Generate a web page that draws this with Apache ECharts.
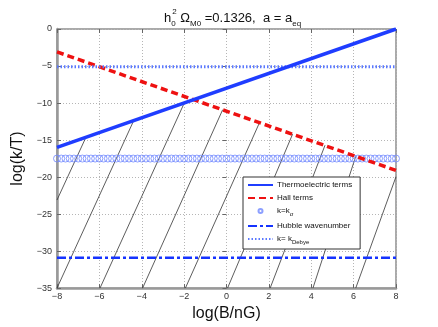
<!DOCTYPE html>
<html>
<head>
<meta charset="utf-8">
<script src="https://cdn.jsdelivr.net/npm/echarts@6/dist/echarts.min.js"></script>
<style>
  html, body { margin: 0; padding: 0; background: #fff; }
  #chart { width: 438px; height: 327px; }
</style>
</head>
<body>
<div id="chart"></div>
<script>
// values
const thermoelectric = [[-8, -16.0], [8, 0]];
const hall = [[-8, -3.1], [8, -19.1]];
const kSigmaLevel = -17.5;
const kSigmaB = [
  -8, -7.8, -7.6, -7.4, -7.2, -7, -6.8, -6.6, -6.4, -6.2, -6, -5.8, -5.6, -5.4, -5.2, -5,
  -4.8, -4.6, -4.4, -4.2, -4, -3.8, -3.6, -3.4, -3.2, -3, -2.8, -2.6, -2.4, -2.2, -2,
  -1.8, -1.6, -1.4, -1.2, -1, -0.8, -0.6, -0.4, -0.2, 0, 0.2, 0.4, 0.6, 0.8, 1,
  1.2, 1.4, 1.6, 1.8, 2, 2.2, 2.4, 2.6, 2.8, 3, 3.2, 3.4, 3.6, 3.8, 4,
  4.2, 4.4, 4.6, 4.8, 5, 5.2, 5.4, 5.6, 5.8, 6, 6.2, 6.4, 6.6, 6.8, 7,
  7.2, 7.4, 7.6, 7.8, 8
];
const hubbleLevel = -30.9;
const debyeLevel = -5.1;
// thin slanted lines: [start, end]
const slantLines = [
  [[-8, -23.1], [-6.63, -14.6]],
  [[-8, -35], [-4.4, -12.5]],
  [[-5.97, -35], [-2.01, -10.1]],
  [[-3.96, -35], [-0.18, -10.9]],
  [[-1.94, -35], [1.55, -12.7]],
  [[0.05, -35], [3.12, -14.2]],
  [[2.06, -35], [4.65, -15.7]],
  [[4.08, -35], [6.1, -17.2]],
  [[6.1, -35], [8, -19.95]]
];
const bMin = -8, bMax = 8;

const chart = echarts.init(document.getElementById('chart'), null, { renderer: 'canvas' });

const font = 'Liberation Sans, Arial, sans-serif';
const minus = v => String(v).replace('-', '\u2212');

let slantData = [];
slantLines.forEach(seg => { slantData.push(seg[0], seg[1], '-'); });

const legendNames = {
  'kSigma': '{t|k=k}{s|σ}',
  'Debye': '{t|k= k}{s|Debye}'
};
const noDot = { opacity: 0 };

const option = {
  animation: false,
  backgroundColor: '#ffffff',
  title: {
    left: 159,
    top: 3,
    text: '{n|h}{s0|0}{sp|2}{n| Ω}{sb|M0}{n| =0.1326,  a = a}{sb|eq}',
    textStyle: {
      fontWeight: 'normal',
      rich: {
        n: { fontSize: 13, fontFamily: font, color: '#111', lineHeight: 20, fontWeight: 'normal' },
        s0: { fontSize: 8, fontFamily: font, color: '#111', lineHeight: 9, verticalAlign: 'bottom', width: 1, fontWeight: 'normal' },
        sp: { fontSize: 8, fontFamily: font, color: '#111', lineHeight: 9, verticalAlign: 'top', fontWeight: 'normal' },
        sb: { fontSize: 8, fontFamily: font, color: '#111', lineHeight: 9, verticalAlign: 'bottom', fontWeight: 'normal' }
      }
    }
  },
  grid: {
    left: 57, right: 42, top: 29, bottom: 36,
    show: true, borderColor: '#555', borderWidth: 1
  },
  legend: {
    data: [
      { name: 'Thermoelectric terms', itemStyle: noDot },
      { name: 'Hall terms', itemStyle: noDot },
      { name: 'kSigma' },
      { name: 'Hubble wavenumber', itemStyle: noDot },
      { name: 'Debye', itemStyle: noDot }
    ],
    orient: 'vertical',
    left: 243, top: 177,
    padding: [4, 8, 4, 4],
    itemWidth: 25, itemHeight: 4, itemGap: 5,
    backgroundColor: '#fff',
    borderColor: '#333', borderWidth: 1, borderRadius: 0,
    selectedMode: false,
    formatter: name => legendNames[name] || name,
    textStyle: {
      fontSize: 8, fontFamily: font, color: '#111', padding: [0, 0, 0, -1],
      rich: {
        t: { fontSize: 8, fontFamily: font, color: '#111' },
        s: { fontSize: 6, fontFamily: font, color: '#111', verticalAlign: 'bottom', lineHeight: 12 }
      }
    }
  },
  xAxis: [{
    type: 'value', min: bMin, max: bMax, interval: 2,
    name: 'log(B/nG)', nameLocation: 'middle', nameGap: 10,
    nameTextStyle: { fontSize: 16, fontFamily: font, color: '#111' },
    axisLine: { onZero: false, lineStyle: { color: '#999', width: 2.5 } },
    axisTick: { inside: true, length: 4, lineStyle: { color: '#666' } },
    axisLabel: { fontSize: 9, fontFamily: font, color: '#333', margin: 4, formatter: minus },
    splitLine: { lineStyle: { color: '#b5b5b5', type: [1, 2] } }
  }, {
    type: 'value', min: bMin, max: bMax, interval: 2, position: 'top',
    axisLine: { show: false },
    axisTick: { inside: true, length: 4, lineStyle: { color: '#666' } },
    axisLabel: { show: false }, splitLine: { show: false }
  }],
  yAxis: [{
    type: 'value', min: -35, max: 0, interval: 5,
    name: 'log(k/T)', nameLocation: 'middle', nameGap: 22,
    nameTextStyle: { fontSize: 16, fontFamily: font, color: '#111' },
    axisLine: { onZero: false, lineStyle: { color: '#999', width: 2.5 } },
    axisTick: { inside: true, length: 4, lineStyle: { color: '#666' } },
    axisLabel: { fontSize: 9, fontFamily: font, color: '#333', margin: 5, formatter: minus },
    splitLine: { lineStyle: { color: '#b5b5b5', type: [1, 2] } }
  }, {
    type: 'value', min: -35, max: 0, interval: 5, position: 'right',
    axisLine: { show: false },
    axisTick: { inside: true, length: 4, lineStyle: { color: '#666' } },
    axisLabel: { show: false }, splitLine: { show: false }
  }],
  series: [
    {
      name: 'slant', type: 'line', data: slantData, symbol: 'none',
      lineStyle: { color: '#333', width: 0.8 }, z: 1, silent: true
    },
    {
      name: 'kSigma', type: 'scatter',
      data: kSigmaB.map(b => [b, kSigmaLevel]),
      symbol: 'circle', symbolSize: 7,
      itemStyle: { color: 'rgba(255,255,255,0)', borderColor: '#7088ff', borderWidth: 1 },
      z: 2
    },
    {
      name: 'Thermoelectric terms', type: 'line', data: thermoelectric, symbol: 'none',
      lineStyle: { color: '#1f3dff', width: 3.5 }, itemStyle: { color: '#1f3dff' }, z: 4
    },
    {
      name: 'Hall terms', type: 'line', data: hall, symbol: 'none',
      lineStyle: { color: '#ee1111', width: 3.5, type: [7, 4] }, itemStyle: { color: '#ee1111' }, z: 3
    },
    {
      name: 'Hubble wavenumber', type: 'line',
      data: [[bMin, hubbleLevel], [bMax, hubbleLevel]], symbol: 'none',
      lineStyle: { color: '#1533ff', width: 2.5, type: [9, 3, 3, 3] }, itemStyle: { color: '#1533ff' }, z: 3
    },
    {
      name: 'Debye', type: 'line',
      data: [[bMin, debyeLevel], [bMax, debyeLevel]], symbol: 'none',
      lineStyle: { color: '#5a78ff', width: 3, type: [1.5, 2] }, itemStyle: { color: '#5a78ff' }, z: 3
    }
  ]
};

chart.setOption(option);
</script>
</body>
</html>
